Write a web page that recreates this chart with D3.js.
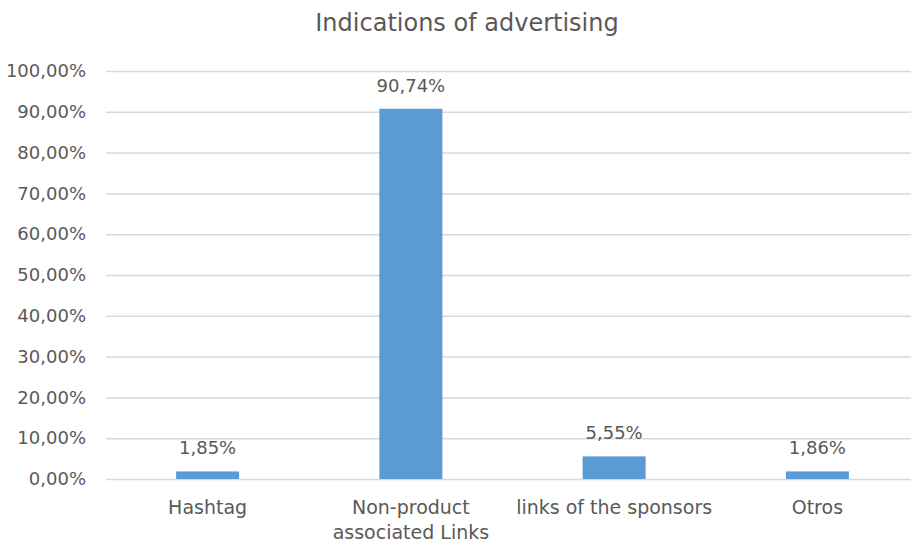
<!DOCTYPE html>
<html><head><meta charset="utf-8">
<script src="https://cdn.jsdelivr.net/npm/d3@7"></script>
<style>body{margin:0;background:#fff}text{font-family:"DejaVu Sans",sans-serif;fill:#595959}</style>
</head><body><svg id="c" width="911" height="542"></svg>
<script>
const categories = [["Hashtag"], ["Non-product", "associated Links"], ["links of the sponsors"], ["Otros"]];
const values = [1.85, 90.74, 5.55, 1.86];
const valueLabels = ["1,85%", "90,74%", "5,55%", "1,86%"];
const yTicks = [0, 10, 20, 30, 40, 50, 60, 70, 80, 90, 100];
const title = "Indications of advertising";

const svg = d3.select("#c");
const x = d3.scaleBand().domain(d3.range(categories.length)).range([106, 919]).paddingInner(0.69).paddingOuter(0.345);
const y = d3.scaleLinear().domain([0, 100]).range([479, 71]);
const fmt = v => v.toFixed(2).replace(".", ",") + "%";

svg.append("text").attr("x", 467).attr("y", 31).attr("text-anchor", "middle")
  .style("font-size", "24px").text(title);

const yAxis = svg.append("g").attr("transform", "translate(106,0)")
  .call(d3.axisLeft(y).tickValues(yTicks).tickFormat(fmt).tickSize(-813).tickPadding(20));
yAxis.select(".domain").remove();
yAxis.selectAll("line").attr("stroke", "#d9d9d9").attr("stroke-width", 1.5);
yAxis.selectAll("text").style("font-size", "18px").attr("fill", "#595959").style("font-family", "DejaVu Sans");

svg.selectAll("rect.bar").data(values).join("rect").attr("class", "bar")
  .attr("x", (d, i) => x(i)).attr("width", x.bandwidth())
  .attr("y", d => y(d)).attr("height", d => y(0) - y(d)).attr("fill", "#5B9BD5");

svg.selectAll("text.vl").data(values).join("text").attr("class", "vl")
  .attr("x", (d, i) => x(i) + x.bandwidth() / 2).attr("y", d => y(d) - 17)
  .attr("text-anchor", "middle").style("font-size", "18px").text((d, i) => valueLabels[i]);

const cl = svg.selectAll("text.cl").data(categories).join("text").attr("class", "cl")
  .attr("x", (d, i) => x(i) + x.bandwidth() / 2).attr("y", 514)
  .attr("text-anchor", "middle").style("font-size", "19px");
cl.selectAll("tspan").data(d => d).join("tspan")
  .attr("x", function() { return this.parentNode.getAttribute("x"); })
  .attr("dy", (d, i) => i ? 25 : 0).text(d => d);
</script></body></html>
